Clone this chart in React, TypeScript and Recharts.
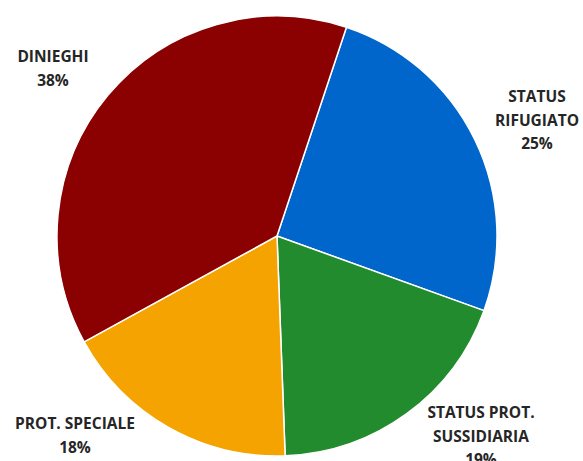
import { PieChart, Pie, Cell } from "recharts";

const categories = ["STATUS RIFUGIATO", "STATUS PROT. SUSSIDIARIA", "PROT. SPECIALE", "DINIEGHI"];
// slice shares (labels show them rounded)
const shares = [25.4, 18.9, 17.6, 38.1];
const labelLines = [
    ["STATUS", "RIFUGIATO", "25%"],
    ["STATUS PROT.", "SUSSIDIARIA", "19%"],
    ["PROT. SPECIALE", "18%"],
    ["DINIEGHI", "38%"],
];

// where each label block is centred (first line), page coords
const labelAnchors = [
    {x: 537, y: 96},
    {x: 481, y: 412},
    {x: 75, y: 423},
    {x: 53, y: 56},
];
const colors = ["#0066CC", "#228B2E", "#F5A300", "#8B0000"];

const data = categories.map((name, i) => ({name, value: shares[i]}));

const renderLabel = (props: any) => {
    const {index} = props;
    const lines = labelLines[index];
    const a = labelAnchors[index];
    return (
        <text
            x={a.x}
            y={a.y}
            textAnchor="middle"
            dominantBaseline="central"
            fill="#262626"
            fontFamily="'Open Sans', sans-serif"
            fontWeight={700}
            fontSize={15.5}
        >
            {lines.map((l, j) => (
                <tspan key={j} x={a.x} dy={j === 0 ? 0 : 23.5}>
                    {l}
                </tspan>
            ))}
        </text>
    );
};

export default function App() {
    return (
        <div style={{position: "absolute", left: 0, top: 0, background: "#fff"}}>
            <PieChart width={583} height={461} margin={{top: 0, right: 0, bottom: 0, left: 0}}>
                <Pie
                    data={data}
                    dataKey="value"
                    cx={277}
                    cy={236}
                    outerRadius={220}
                    startAngle={71.6}
                    endAngle={71.6 - 360}
                    stroke="#ffffff"
                    strokeWidth={1.5}
                    label={renderLabel}
                    labelLine={false}
                    isAnimationActive={false}
                >
                    {data.map((d, i) => (
                        <Cell key={d.name} fill={colors[i]}/>
                    ))}
                </Pie>
            </PieChart>
        </div>
    );
}
